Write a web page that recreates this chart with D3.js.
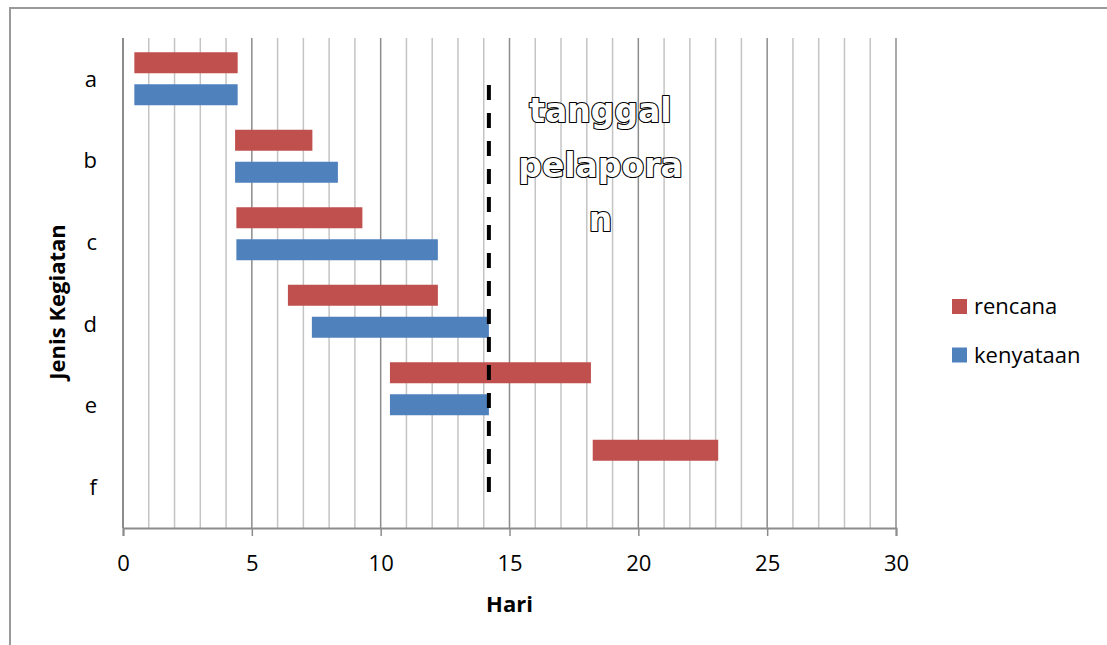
<!DOCTYPE html>
<html>
<head>
<meta charset="utf-8">
<script src="https://cdn.jsdelivr.net/npm/d3@7"></script>
<style>
  html, body { margin: 0; padding: 0; background: #fff; }
  svg { display: block; }
  text { font-family: "Open Sans", "Noto Sans", sans-serif; fill: #000; }
  text.outlined { font-family: "DejaVu Sans", sans-serif; font-weight: bold; fill: #fff; }
</style>
</head>
<body>
<svg id="chart" width="1107" height="645"></svg>
<script>
// Activities (Jenis Kegiatan)
const categories = ["a", "b", "c", "d", "e", "f"];
// Planned schedule (rencana): start day and end day
const planStart = [0.44, 4.35, 4.40, 6.40, 10.36, 18.23];
const planEnd   = [4.45, 7.35, 9.29, 12.22, 18.16, 23.10];
// Actual progress (kenyataan): start day and end day (null = not started)
const realStart = [0.44, 4.35, 4.40, 7.33, 10.36, null];
const realEnd   = [4.45, 8.34, 12.22, 14.20, 14.20, null];
// Reporting date marker
const reportDay = 14.2;
const reportLabel = ["tanggal", "pelapora", "n"];
const xTicks = [0, 5, 10, 15, 20, 25, 30];
const seriesNames = ["rencana", "kenyataan"];
const colors = { rencana: "#C0504D", kenyataan: "#4F81BD" };

const svg = d3.select("#chart");

// Outer chart frame
svg.append("rect")
  .attr("x", 10).attr("y", 8)
  .attr("width", 1200).attr("height", 700)
  .attr("fill", "none").attr("stroke", "#9a9a9a").attr("stroke-width", 2);

const plot = { left: 123, right: 896, top: 38, bottom: 528 };

const x = d3.scaleLinear().domain([0, 30]).range([plot.left, plot.right]);
const yAxis = d3.scaleBand().domain(categories).range([plot.top, plot.bottom]);
const yBars = d3.scaleBand().domain(categories).range([plot.top + 2, plot.bottom - 23]);

// Vertical gridlines: minor every day, major every 5 days
const days = d3.range(1, 31);
svg.append("g").selectAll("line").data(days).join("line")
  .attr("x1", d => x(d)).attr("x2", d => x(d))
  .attr("y1", plot.top).attr("y2", plot.bottom)
  .attr("stroke", d => d % 5 === 0 ? "#8c8c8c" : "#c4c4c4")
  .attr("stroke-width", 1.5);

// Category axis line
svg.append("line")
  .attr("x1", x(0)).attr("x2", x(0))
  .attr("y1", plot.top).attr("y2", plot.bottom)
  .attr("stroke", "#8c8c8c").attr("stroke-width", 2);

// Value axis along the bottom
const xAxisG = svg.append("g")
  .attr("transform", `translate(0,${plot.bottom})`)
  .call(d3.axisBottom(x).tickValues(xTicks).tickSize(8).tickPadding(19).tickFormat(d3.format("d")));
xAxisG.select(".domain").attr("stroke", "#8c8c8c").attr("stroke-width", 2);
xAxisG.selectAll(".tick line").attr("stroke", "#8c8c8c").attr("stroke-width", 1.5);
xAxisG.selectAll(".tick text")
  .attr("font-family", "Open Sans").attr("font-size", 22).attr("fill", "#000");

// Category labels
svg.append("g").selectAll("text").data(categories).join("text")
  .attr("x", x(0) - 26)
  .attr("y", d => yAxis(d) + yAxis.bandwidth() / 2)
  .attr("dy", "0.35em")
  .attr("text-anchor", "end")
  .attr("font-size", 22)
  .text(d => d);

// Bars
const barH = 21, gap = 11;
const rows = categories.map((c, i) => ({
  cat: c,
  plan: [planStart[i], planEnd[i]],
  real: realStart[i] == null ? null : [realStart[i], realEnd[i]]
}));
const barG = svg.append("g");
rows.forEach(r => {
  const cy = yBars(r.cat) + yBars.bandwidth() / 2;
  barG.append("rect")
    .attr("x", x(r.plan[0])).attr("width", x(r.plan[1]) - x(r.plan[0]))
    .attr("y", cy - gap / 2 - barH).attr("height", barH)
    .attr("fill", colors.rencana);
  if (r.real) {
    barG.append("rect")
      .attr("x", x(r.real[0])).attr("width", x(r.real[1]) - x(r.real[0]))
      .attr("y", cy + gap / 2).attr("height", barH)
      .attr("fill", colors.kenyataan);
  }
});

// Reporting date line
svg.append("line")
  .attr("x1", x(reportDay)).attr("x2", x(reportDay))
  .attr("y1", plot.top + 47).attr("y2", plot.bottom - 35)
  .attr("stroke", "#000").attr("stroke-width", 4)
  .attr("stroke-dasharray", "15 13");

// Outlined annotation
svg.append("g").selectAll("text").data(reportLabel).join("text")
  .attr("class", "outlined")
  .attr("x", 600.5)
  .attr("y", (d, i) => 122 + i * 54.5)
  .attr("text-anchor", "middle")
  .attr("font-size", 33)
  .attr("stroke", "#000").attr("stroke-width", 2.2)
  .attr("stroke-linejoin", "round")
  .attr("paint-order", "stroke")
  .text(d => d);

// Axis titles
svg.append("text")
  .attr("x", (plot.left + plot.right) / 2).attr("y", 612)
  .attr("text-anchor", "middle")
  .attr("font-size", 22).attr("font-weight", "bold")
  .text("Hari");

svg.append("text")
  .attr("transform", "translate(65,302) rotate(-90)")
  .attr("text-anchor", "middle")
  .attr("font-size", 22).attr("font-weight", "bold")
  .text("Jenis Kegiatan");

// Legend
const legend = svg.append("g");
seriesNames.forEach((s, i) => {
  const ly = 299 + i * 48.5;
  legend.append("rect")
    .attr("x", 952).attr("y", ly).attr("width", 15).attr("height", 15)
    .attr("fill", colors[s]);
  legend.append("text")
    .attr("x", 974).attr("y", ly + 15)
    .attr("font-size", 22)
    .text(s);
});
</script>
</body>
</html>
